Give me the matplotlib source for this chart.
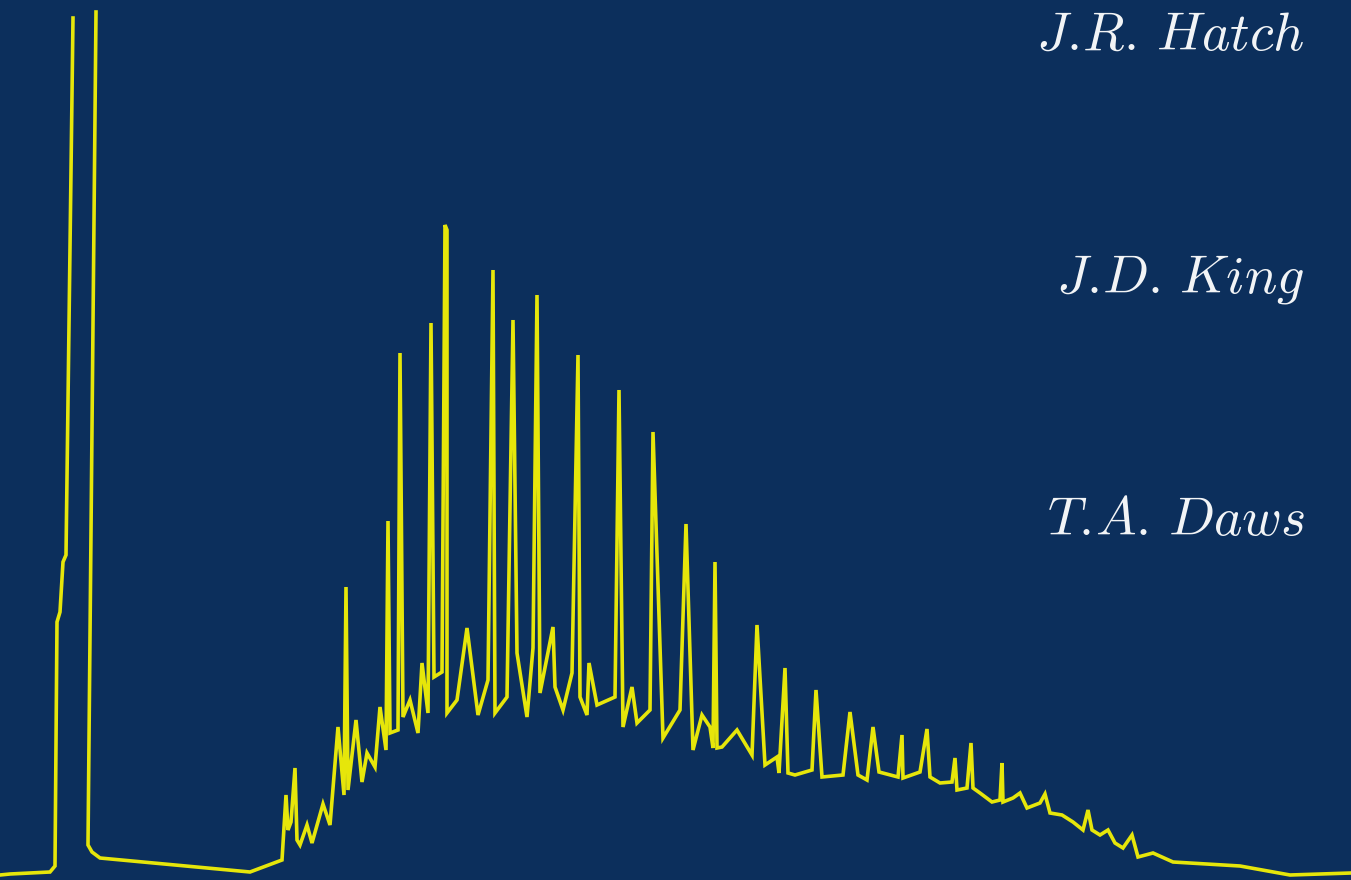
import matplotlib.pyplot as plt
import numpy as np

plt.rcParams['mathtext.fontset'] = 'cm'

# chart trace, read as (time, signal); nan marks where the pen runs off scale
retention = [0, 10, 50, 55, 57, 60, 63, 66, 73, np.nan, 96, 88, 92, 100, 250, 282,
             286, 288, 291, 295, 297, 300, 307, 312, 323, 330, 338, 344, 346, 348,
             356, 362, 367, 375, 380, 386, 388, 390, 398, 400, 403, 410, 418, 422,
             428, 431, 434, 442, 445, 447, 447, 457, 467, 478, 488, 493, 495, 507,
             513, 517, 527, 533, 537, 540, 553, 555, 563, 572, 578, 580, 587, 589,
             597, 615, 619, 623, 632, 637, 650, 653, 663, 680, 686, 693, 702, 710,
             713, 715, 717, 722, 737, 752, 757, 765, 777, 779, 785, 788, 795, 812,
             816, 822, 843, 850, 858, 867, 873, 879, 898, 902, 903, 920, 927, 930,
             940, 952, 955, 957, 967, 971, 973, 980, 992, 1000, 1002, 1003, 1013,
             1020, 1027, 1040, 1045, 1050, 1062, 1073, 1083, 1088, 1092, 1100, 1108,
             1115, 1123, 1132, 1138, 1153, 1173, 1240, 1290, 1351]
signal = [5, 6, 8, 14, 258, 268, 318, 325, 862, np.nan, 868, 35, 28, 22, 8, 20,
          85, 50, 58, 112, 40, 35, 55, 37, 76, 55, 153, 85, 293, 90,
          160, 98, 127, 113, 173, 130, 359, 147, 150, 527, 163, 180, 147, 217,
          167, 557, 203, 208, 655, 650, 167, 180, 252, 165, 200, 610, 167, 183,
          560, 227, 163, 232, 585, 187, 253, 193, 170, 207, 525, 183, 165, 217,
          175, 183, 490, 153, 193, 157, 170, 448, 142, 170, 356, 130, 165, 153,
          132, 318, 132, 133, 150, 125, 255, 115, 123, 107, 212, 107, 105, 110,
          190, 103, 105, 168, 105, 100, 153, 108, 103, 145, 102, 108, 151, 103,
          97, 98, 122, 90, 92, 137, 92, 87, 78, 80, 117, 78, 82,
          87, 72, 77, 86, 67, 65, 58, 50, 70, 50, 45, 50,
          37, 32, 45, 23, 27, 18, 14, 5, 7]

names = ['J.R. Hatch', 'J.D. King', 'T.A. Daws']
name_y = [830, 588, 345]


def italic(s):
    # cm italic via mathtext; \! cancels the space mathtext puts after dots
    s = s.replace('.', r'.\!').replace(' ', r'\ ')
    return r'$\mathit{' + s + '}$'


fig = plt.figure(figsize=(13.51, 8.80), dpi=100)
fig.patch.set_facecolor('#0c2f5c')
ax = fig.add_axes([0, 0, 1, 1])
ax.set_facecolor('#0c2f5c')

ax.plot(retention, signal, color='#e6e60a', lw=2.6, solid_joinstyle='miter')

for name, y in zip(names, name_y):
    ax.text(1305, y, italic(name), color='#f2f4f6', fontsize=39,
            ha='right', va='baseline')

ax.set_xlim(0, 1351)
ax.set_ylim(0, 880)
ax.axis('off')

fig.savefig('out.png', dpi=100, facecolor=fig.get_facecolor())
